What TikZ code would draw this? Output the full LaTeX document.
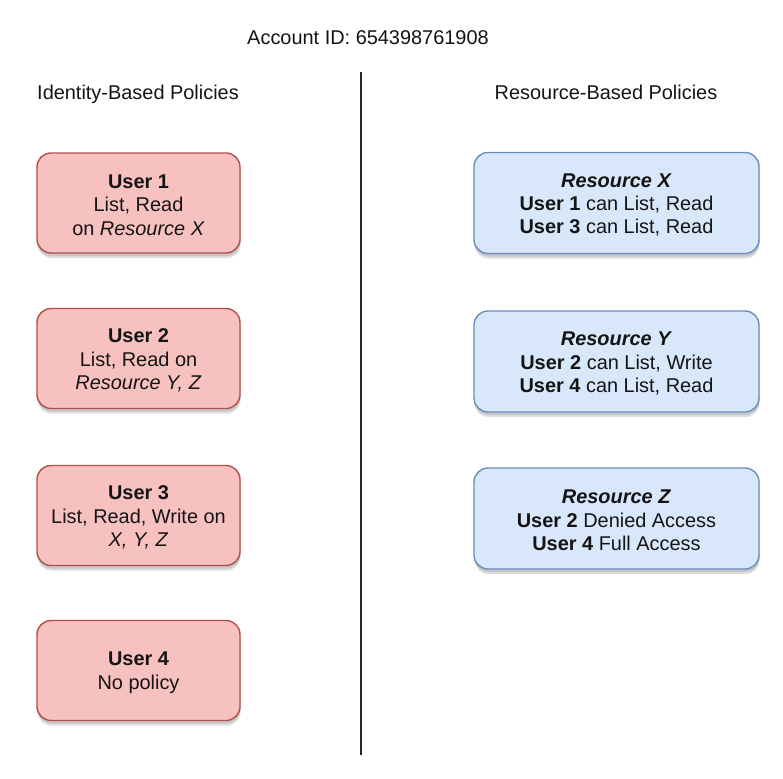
\documentclass[tikz,border=0pt]{standalone}
\usepackage{fontspec}
\setmainfont{Liberation Sans}
\usetikzlibrary{shadows}
\definecolor{redfill}{HTML}{F7C1C0}
\definecolor{reddraw}{HTML}{B0504C}
\definecolor{bluefill}{HTML}{D9E7FB}
\definecolor{bluedraw}{HTML}{6A8DC0}
\definecolor{txt}{HTML}{141414}
\tikzset{
  basebox/.style={rounded corners=14bp, line width=1.4bp, inner sep=0pt,
    drop shadow={opacity=0.25, shadow xshift=0.5bp, shadow yshift=-3bp},
    drop shadow={opacity=0.25, shadow xshift=0.5bp, shadow yshift=-5bp}},
  idbox/.style={basebox, draw=reddraw, fill=redfill, minimum width=203bp, minimum height=100bp},
  resbox/.style={basebox, draw=bluedraw, fill=bluefill, minimum width=285bp, minimum height=101bp},
  boxtext/.style={align=center, font=\fontsize{20}{23.5}\selectfont, text=txt, inner sep=0pt},
  heading/.style={font=\fontsize{20}{24}\selectfont, text=txt, inner sep=0pt, anchor=base}
}
\begin{document}
\begin{tikzpicture}[x=1bp,y=-1bp]
\useasboundingbox[fill=white] (0,0) rectangle (783,779);
\node[heading] (acct) at (368,45) {Account ID: 654398761908};
\node[heading] (idh) at (138,99) {Identity-Based Policies};
\node[heading] (resh) at (606,99) {Resource-Based Policies};
\coordinate (ltop) at (361,72);
\coordinate (lbot) at (361,755);
\draw[line width=2.4bp, color=black!85] (ltop) -- (lbot);

\node[idbox] (u1) at (138.5,203) {};
\node[idbox] (u2) at (138.5,358.5) {};
\node[idbox] (u3) at (138.5,515.5) {};
\node[idbox] (u4) at (138.5,670.5) {};
\node[resbox] (rx) at (616.5,203) {};
\node[resbox] (ry) at (616.5,361.5) {};
\node[resbox] (rz) at (616.5,518.5) {};

\node[boxtext] (u1t) at ([yshift=-2bp]u1.center) {\textbf{User 1}\\List, Read\\on \textit{Resource X}};
\node[boxtext] (u2t) at ([yshift=-2bp]u2.center) {\textbf{User 2}\\List, Read on\\\textit{Resource Y, Z}};
\node[boxtext] (u3t) at ([yshift=-2bp]u3.center) {\textbf{User 3}\\List, Read, Write on\\\textit{X, Y, Z}};
\node[boxtext] (u4t) at ([yshift=-2bp]u4.center) {\textbf{User 4}\\No policy};
\node[boxtext] (rxt) at ([yshift=-2bp]rx.center) {\textbf{\textit{Resource X}}\\\textbf{User 1} can List, Read\\\textbf{User 3} can List, Read};
\node[boxtext] (ryt) at ([yshift=-2bp]ry.center) {\textbf{\textit{Resource Y}}\\\textbf{User 2} can List, Write\\\textbf{User 4} can List, Read};
\node[boxtext] (rzt) at ([yshift=-2bp]rz.center) {\textbf{\textit{Resource Z}}\\\textbf{User 2} Denied Access\\\textbf{User 4} Full Access};
\end{tikzpicture}
\end{document}
